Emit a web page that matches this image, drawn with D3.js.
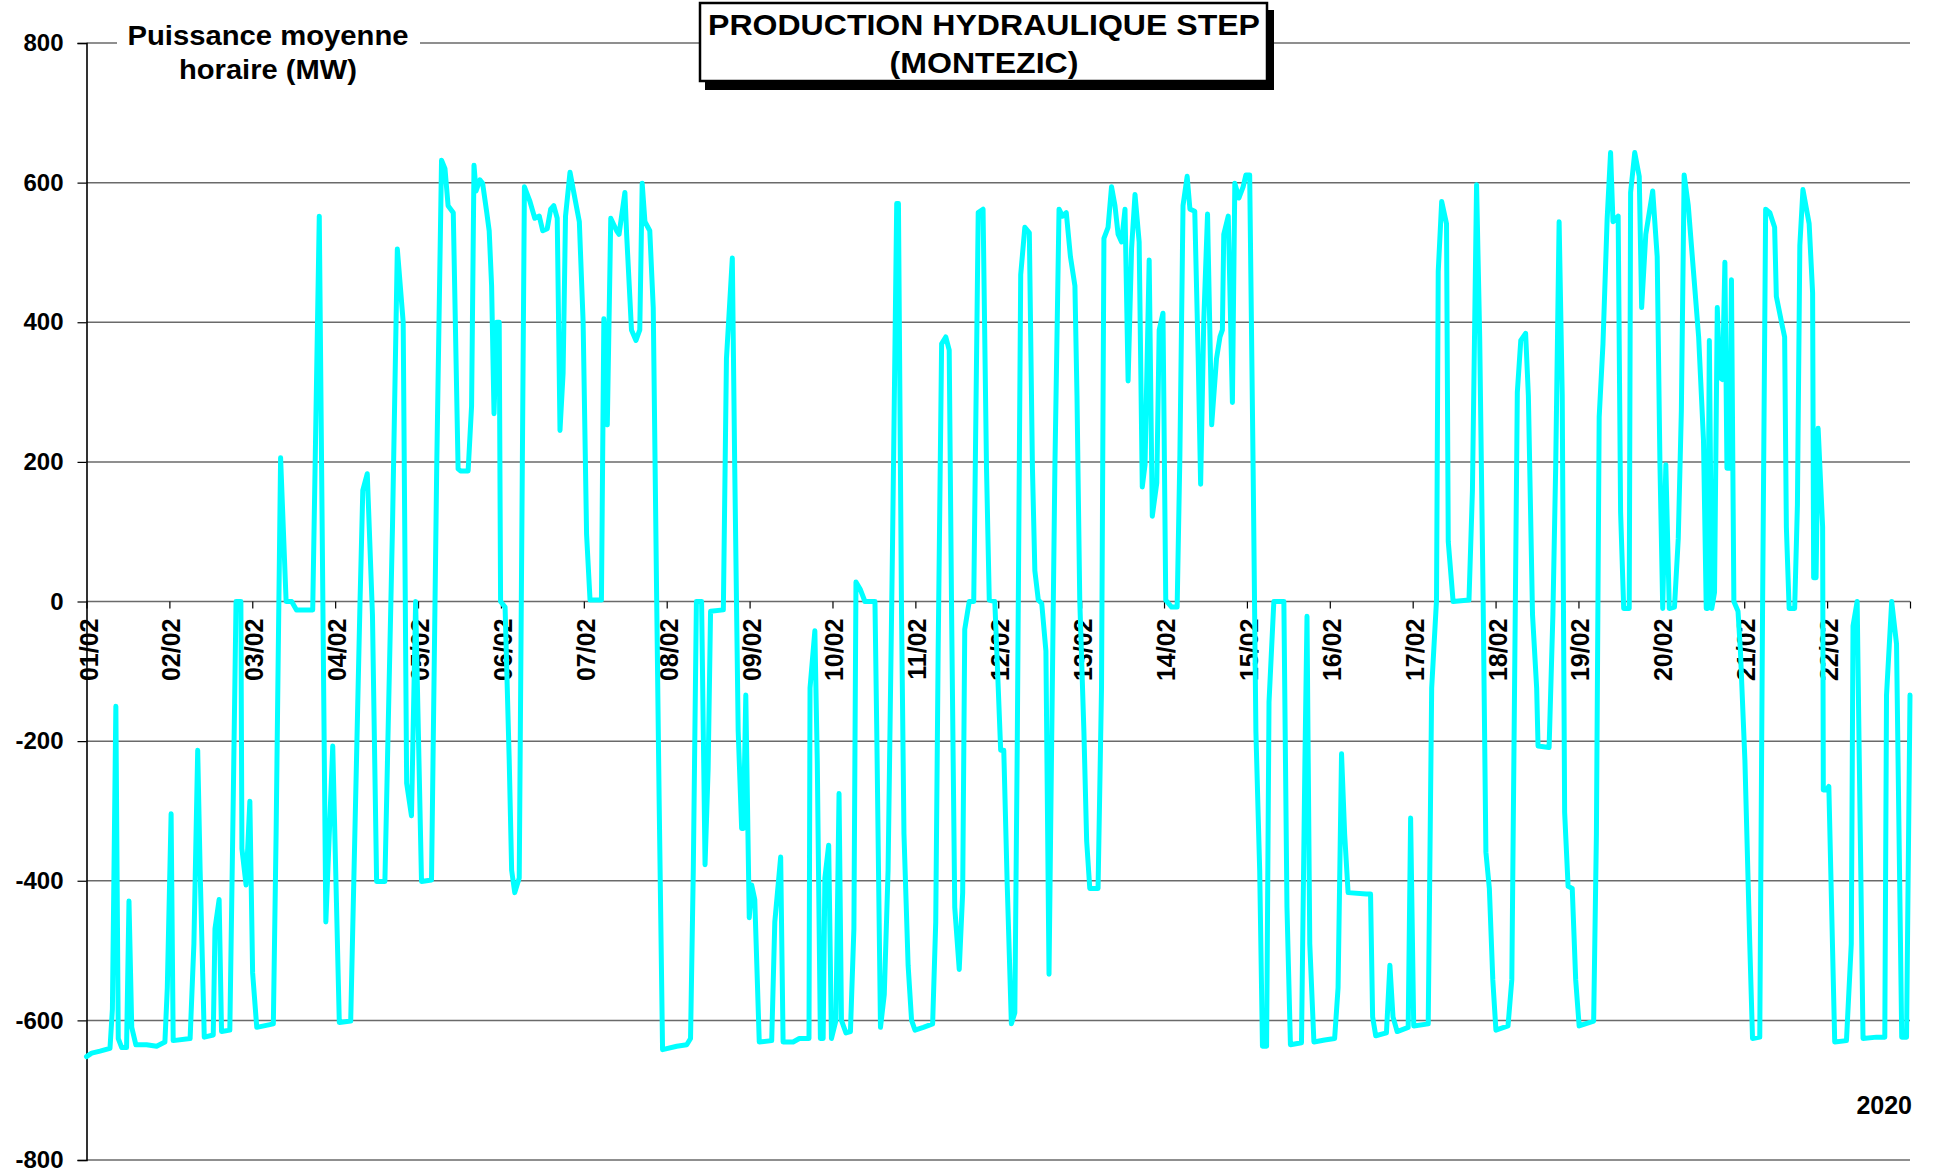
<!DOCTYPE html>
<html><head><meta charset="utf-8">
<script src="https://cdn.jsdelivr.net/npm/d3@7"></script>
<style>
body{margin:0;background:#fff}
svg{display:block}
text{font-family:"Liberation Sans",Arial,Helvetica,sans-serif;font-weight:bold;fill:#000}
</style>
</head><body>
<svg id="chart" width="1939" height="1176"></svg>
<script>
// ---- data ----
const titleLines = ["PRODUCTION HYDRAULIQUE STEP", "(MONTEZIC)"];
const yLabelLines = ["Puissance moyenne", "horaire (MW)"];
const yearLabel = "2020";
const dayLabels = ["01/02","02/02","03/02","04/02","05/02","06/02","07/02","08/02","09/02","10/02","11/02",
  "12/02","13/02","14/02","15/02","16/02","17/02","18/02","19/02","20/02","21/02","22/02"];
const yTicks = [800,600,400,200,0,-200,-400,-600,-800];
// hours elapsed since 01/02 00:00
const hours = [0,1.5,3.9,6.8,7.5,8.5,9.2,10.2,11.6,12.3,13.1,14.3,17.4,20.3,22.7,23.4,24.5,25.1,30,31.1,32.2,32.9,34.1,36.7,37.2,38.4,39.1,41.5,42.5,43.3,44.7,45,46.2,47.3,48.1,49.3,54.1,54.9,56.2,57.8,59.4,60.8,65.5,
67.4,69.3,71.3,73.2,76.5,79.2,80,81.3,82.8,84,86.4,88.6,90,91.7,92.7,94.1,95.3,97,99.9,101.4,102.8,103.8,104.7,106.2,107.6,108.3,110.5,111.5,112.2,112.8,113.9,114.7,115.9,116.6,117.3,118,118.8,119.5,119.9,121.2,122.4,123.1,124,125.3,
126.8,128.4,129.8,131.1,132.1,133.4,134.4,135.3,136.3,137.1,138,138.7,140,141.4,142.7,143.8,144.8,145.8,149.1,149.8,150.8,151.8,153.5,154.2,155.9,156.4,157.8,159.1,160.2,160.9,161.7,163.1,164.1,165.1,165.8,166.8,170.9,173.8,174.9,175.7,176.6,178.1,179.1,180,180.7,184.4,185.3,187,187.7,188.7,189.7,190.2,190.9,191.9,192.6,193.5,194.8,
198.4,199.3,201,201.7,204.6,206.4,209.2,209.5,210.9,211.6,212.5,213.3,213.8,214.9,215.7,217,217.9,218.6,219.9,221.2,222.2,222.8,224,225.4,228.3,228.8,229.9,231,232.1,233.4,234.6,235.1,236,236.7,237.9,238.9,239.9,242.3,245,245.9,246.6,247.6,248.8,249.8,250.5,251.4,252.7,253.7,254.3,255.6,256.9,258.2,259.6,260.6,261.4,263,
264,264.7,265.6,266.6,267.8,268.8,269.5,270.5,271.7,273,273.9,274.6,275.6,276.6,277.8,278.7,279.4,280.4,281.6,282.6,283.7,284.9,286.2,286.8,287.6,288.8,289.6,290.5,292.9,293.9,294.6,295.8,296.8,297.8,298.7,299.7,300.7,301.6,302.6,303.6,304.8,305.7,306.5,307.7,308.6,309.9,310.6,311.7,312.5,314.2,315.8,316.6,317.5,318.7,319.5,320.9,321.9,322.6,323.5,324.6,325.8,327.2,328.2,328.9,329.3,330.6,331.8,332.5,333.7,334.9,335.7,336.8,337.8,338.6,339.7,340.5,341.7,342.4,343.8,346.7,347.6,348.6,351.8,352.8,353.4,354.2,355.4,358.5,361.4,362.4,363.4,364.3,365.3,370.6,371.8,372.4,373.3,376.4,377.4,378.3,379.5,382.7,383.4,384.3,388.5,389.5,390.9,391.4,392.4,393.8,394.3,395.7,
400.3,401.3,402.5,403.4,404.4,405.2,406.2,407.2,408.1,411.6,412.7,413.3,414.3,415.3,416.7,417.5,418.7,419.9,420.3,423.5,424.6,425.4,426.4,427.3,428,429,430.2,431.2,432.2,436.4,437.2,438,439.1,440.3,441.3,442,443.5,444.2,445.1,446.7,447.1,448.3,449.6,450.3,451.5,453.5,454.8,455.6,456.4,457.3,458.3,459.8,460.9,461.8,462.6,463.8,465.3,466.8,468.2,469,469.4,469.9,470.6,471.4,472.2,472.9,473.7,474.4,475,475.8,476.3,477,478.2,478.9,480.2,481.6,482.4,484.5,485.3,486.2,487.4,488.8,489.3,490.8,491.7,492.2,493,494.6,495.4,496.1,497,498.8,499.8,500.1,500.8,501.4,502.7,502.9,503.8,504.5,506.2,509.6,511,511.5,512.7,514.4,518.3,520.7,521.2,522.7,524.1,525.6,527,528];
// MW
const values = [-652,-647,-644,-640,-584,-150,-626,-639,-639,-429,-610,-635,-635,-637,-631,-553,-304,-629,-626,-490,-213,-385,-624,-621,-469,-427,-616,-614,-281,0,0,-354,-406,-286,-532,-610,-605,-333,206,0,0,-12,-12,
552,-459,-207,-603,-601,0,159,183,-19,-401,-401,107,505,400,-260,-307,0,-401,-399,190,632,620,567,557,190,187,187,280,625,588,604,599,557,531,452,269,400,400,0,-8,-228,-385,-417,-396,
594,573,549,552,531,534,562,567,549,245,327,552,615,578,544,400,96,2,2,405,253,549,531,526,586,526,389,374,389,599,544,531,421,2,-281,-642,-637,-635,-626,-385,0,0,-377,-239,-14,-12,348,492,191,-186,-325,-325,-134,-453,-406,-427,-631,
-629,-459,-366,-631,-631,-626,-626,-124,-42,-228,-626,-626,-396,-349,-626,-600,-275,-600,-618,-616,-469,28,18,0,0,-176,-610,-563,-385,86,570,570,-19,-333,-521,-600,-614,-610,-605,-459,-71,369,379,360,-19,-438,-527,-417,-40,0,0,557,562,191,2,0,
-124,-213,-213,-406,-605,-589,-207,468,536,528,191,44,2,-3,-71,-534,-228,191,562,552,557,494,452,295,2,-186,-343,-411,-411,-124,520,536,594,567,526,515,562,316,505,583,515,164,196,489,122,170,389,413,2,-8,-8,211,567,609,562,559,348,168,400,555,253,348,379,389,526,552,285,599,578,594,611,611,191,-186,-385,-637,-637,-144,0,0,-438,-635,-632,-228,-21,-490,-631,-628,-626,-553,-218,-333,-417,-419,-419,-595,-622,-618,-521,-595,-616,-610,-310,-608,-605,-124,2,473,573,541,86,0,
2,159,597,379,2,-359,-411,-542,-614,-608,-542,-228,300,374,384,295,-19,-124,-207,-209,-19,191,544,295,-302,-408,-411,-542,-608,-601,-333,264,369,547,643,544,552,128,-10,-10,586,643,609,421,526,588,494,196,-10,196,-10,-8,90,274,611,567,473,379,232,-10,-10,374,-10,13,421,321,318,486,191,191,461,0,-14,-71,-228,-490,-626,-624,-19,562,557,536,437,400,379,107,-10,-10,138,510,590,541,442,34,34,248,107,-270,-270,-265,-631,-629,-490,-35,0,-626,-624,-624,-134,0,-61,-624,-624,-134];

// ---- layout ----
const W = 1939, H = 1176;
const plot = {left: 86.5, right: 1910, top: 43, bottom: 1160};
const svg = d3.select("#chart");
svg.append("rect").attr("width", W).attr("height", H).attr("fill", "#fff");

const x = d3.scaleLinear().domain([0, dayLabels.length * 24]).range([plot.left, plot.right]);
const y = d3.scaleLinear().domain([-800, 800]).range([plot.bottom, plot.top]);

// gridlines
svg.append("g").selectAll("line").data(yTicks).join("line")
  .attr("x1", plot.left).attr("x2", plot.right)
  .attr("y1", d => y(d)).attr("y2", d => y(d))
  .attr("stroke", "#6a6a6a").attr("stroke-width", 1.5);

// y axis
const yAxis = svg.append("g").attr("transform", `translate(${plot.left},0)`)
  .call(d3.axisLeft(y).tickValues(yTicks).tickSize(9).tickPadding(14).tickFormat(d => String(d)));
yAxis.select(".domain").attr("stroke", "#000").attr("stroke-width", 1.6);
yAxis.selectAll(".tick line").attr("stroke", "#000").attr("stroke-width", 1.2);
yAxis.selectAll("text").style("font-size", "24px").style("font-family", '"Liberation Sans",Arial,sans-serif').style("font-weight", "bold").attr("fill", "#000");

// x axis (day ticks on the zero line)
const dayTicks = d3.range(0, dayLabels.length + 1).map(i => i * 24);
const xAxis = svg.append("g").attr("transform", `translate(0,${y(0)})`)
  .call(d3.axisBottom(x).tickValues(dayTicks).tickSize(7).tickFormat(d => dayLabels[d / 24] || ""));
xAxis.select(".domain").remove();
xAxis.selectAll(".tick line").attr("stroke", "#000").attr("stroke-width", 1.2);
xAxis.selectAll("text")
  .style("font-size", "25px").style("font-family", '"Liberation Sans",Arial,sans-serif').style("font-weight", "bold").attr("fill", "#000")
  .attr("text-anchor", "end")
  .attr("transform", "rotate(-90)")
  .attr("x", -17).attr("y", 0).attr("dy", "0.42em");

// data line
const pts = hours.map((h, i) => [h, values[i]]);
svg.append("path").datum(pts)
  .attr("fill", "none").attr("stroke", "#00FFFF").attr("stroke-width", 5)
  .attr("stroke-linejoin", "round").attr("stroke-linecap", "round")
  .attr("d", d3.line().x(d => x(d[0])).y(d => y(d[1])));

// y axis title with white background
svg.append("rect").attr("x", 117).attr("y", 14).attr("width", 303).attr("height", 72).attr("fill", "#fff");
svg.append("text").attr("x", 268).attr("y", 45).attr("text-anchor", "middle").style("font-size", "28px")
  .attr("textLength", 281).attr("lengthAdjust", "spacingAndGlyphs").text(yLabelLines[0]);
svg.append("text").attr("x", 268).attr("y", 79).attr("text-anchor", "middle").style("font-size", "28px")
  .attr("textLength", 178).attr("lengthAdjust", "spacingAndGlyphs").text(yLabelLines[1]);

// title box with shadow
svg.append("rect").attr("x", 705).attr("y", 10).attr("width", 569).attr("height", 80).attr("fill", "#000");
svg.append("rect").attr("x", 700).attr("y", 3).attr("width", 567).attr("height", 78).attr("fill", "#fff").attr("stroke", "#000").attr("stroke-width", 2.5);
svg.append("text").attr("x", 984).attr("y", 35).attr("text-anchor", "middle").style("font-size", "30px")
  .attr("textLength", 552).attr("lengthAdjust", "spacingAndGlyphs").text(titleLines[0]);
svg.append("text").attr("x", 984).attr("y", 73).attr("text-anchor", "middle").style("font-size", "30px")
  .attr("textLength", 189).attr("lengthAdjust", "spacingAndGlyphs").text(titleLines[1]);

// year label
svg.append("text").attr("x", 1912).attr("y", 1114).attr("text-anchor", "end").style("font-size", "25px").text(yearLabel);
</script>
</body></html>
